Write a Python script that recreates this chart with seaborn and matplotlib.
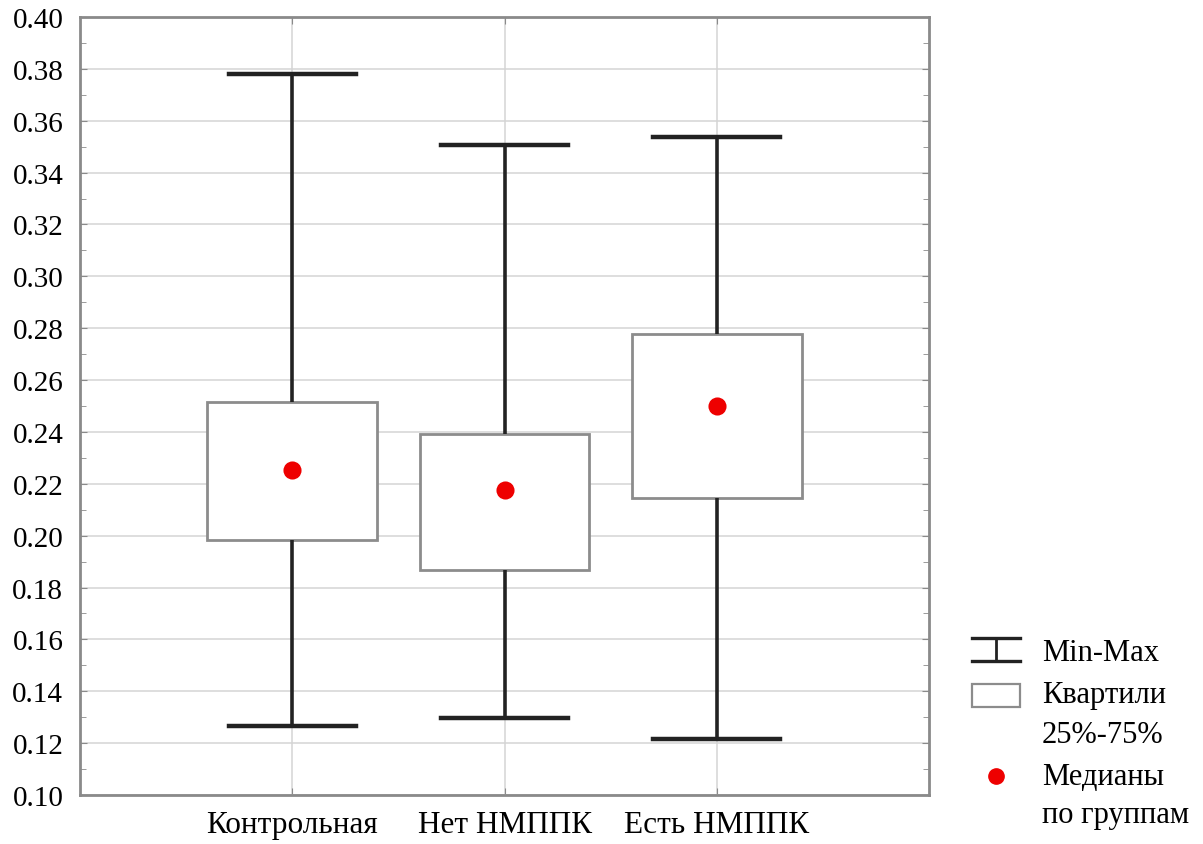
import numpy as np
import pandas as pd
import matplotlib
matplotlib.use("Agg")
import matplotlib.pyplot as plt
from matplotlib.lines import Line2D
from matplotlib.patches import Rectangle
from matplotlib.ticker import MultipleLocator, FormatStrFormatter
import seaborn as sns

# ---- data (five-number summaries) ----
groups = ["Контрольная", "Нет НМППК", "Есть НМППК"]
mins = [0.1266, 0.1297, 0.1216]
q1s = [0.1983, 0.1868, 0.2145]
medians = [0.2253, 0.2176, 0.2500]
q3s = [0.2516, 0.2392, 0.2778]
maxs = [0.3780, 0.3507, 0.3538]

legend_labels = ["Min-Max", ["Квартили", "25%-75%"], ["Медианы", "по группам"]]

# long table: with 5 points, the 0/25/50/75/100 percentiles are exactly these values
rows = []
for g, a, b, c, d, e in zip(groups, mins, q1s, medians, q3s, maxs):
    for v in (a, b, c, d, e):
        rows.append({"group": g, "value": v})
df = pd.DataFrame(rows)

W, H, DPI = 1203, 845, 100
plt.rcParams["font.family"] = ["Liberation Serif", "DejaVu Serif"]
fig = plt.figure(figsize=(W / DPI, H / DPI), dpi=DPI)
ax = fig.add_axes([80 / W, 1 - 796 / H, (929 - 80) / W, (796 - 18) / H])

grid_c = "#d4d4d4"
spine_c = "#8a8a8a"
box_c = "#8c8c8c"
line_c = "#222222"

ax.set_axisbelow(True)
kw = dict(
    boxprops=dict(edgecolor=box_c, facecolor="white", linewidth=2.0),
    whiskerprops=dict(color=line_c, linewidth=2.6),
    capprops=dict(color=line_c, linewidth=3.2),
    medianprops=dict(linewidth=0, alpha=0),
)
try:
    sns.boxplot(data=df, x="group", y="value", order=groups, whis=(0, 100),
                width=0.8, fliersize=0, ax=ax, capwidths=0.6, **kw)
except TypeError:
    ax.cla()
    sns.boxplot(data=df, x="group", y="value", order=groups, whis=(0, 100),
                width=0.8, fliersize=0, ax=ax, **kw)

sns.pointplot(data=df, x="group", y="value", order=groups, estimator="median",
              errorbar=None, linestyle="none", marker="o", color="#ee0000",
              markersize=11, ax=ax)

ax.set_xlim(-1, 3)
ax.set_ylim(0.10, 0.40)
ax.yaxis.set_major_locator(MultipleLocator(0.02))
ax.yaxis.set_minor_locator(MultipleLocator(0.01))
ax.yaxis.set_major_formatter(FormatStrFormatter("%.2f"))
ax.set_xticks(range(len(groups)))
ax.set_xticklabels(groups)
ax.grid(True, which="major", color=grid_c, linewidth=1.1)
ax.set_xlabel("")
ax.set_ylabel("")
for s in ax.spines.values():
    s.set_color(spine_c)
    s.set_linewidth(2.0)
ax.tick_params(axis="both", which="both", direction="in", top=True, right=True,
               color=spine_c)
ax.tick_params(which="major", length=5)
ax.tick_params(which="minor", length=4)
ax.tick_params(axis="y", labelsize=21, pad=12)
ax.tick_params(axis="x", labelsize=22.5, pad=11)

# ---- legend (drawn in figure pixel coords) ----
def fx(x):
    return x / W

def fy(y):
    return 1 - y / H

tf = fig.transFigure
fs = 22
# Min-Max symbol
for y in (639, 662):
    fig.add_artist(Line2D([fx(972), fx(1020)], [fy(y), fy(y)], color=line_c,
                          linewidth=2.4, transform=tf))
fig.add_artist(Line2D([fx(996), fx(996)], [fy(639), fy(662)], color=line_c,
                      linewidth=2.0, transform=tf))
fig.text(fx(1042), fy(654), legend_labels[0], fontsize=fs, va="center", ha="left")
# quartile box
fig.add_artist(Rectangle((fx(972), fy(708)), fx(1020) - fx(972), fy(685) - fy(708),
                         facecolor="white", edgecolor=box_c, linewidth=1.6,
                         transform=tf))
fig.text(fx(1042), fy(696), legend_labels[1][0], fontsize=fs, va="center", ha="left")
fig.text(fx(1042), fy(736), legend_labels[1][1], fontsize=fs, va="center", ha="left")
# median dot
fig.add_artist(Line2D([fx(996)], [fy(777)], marker="o", markersize=11,
                      color="#ee0000", linestyle="none", transform=tf))
fig.text(fx(1042), fy(778), legend_labels[2][0], fontsize=fs, va="center", ha="left")
fig.text(fx(1042), fy(816), legend_labels[2][1], fontsize=fs, va="center", ha="left")

fig.savefig("out.png", dpi=DPI)
